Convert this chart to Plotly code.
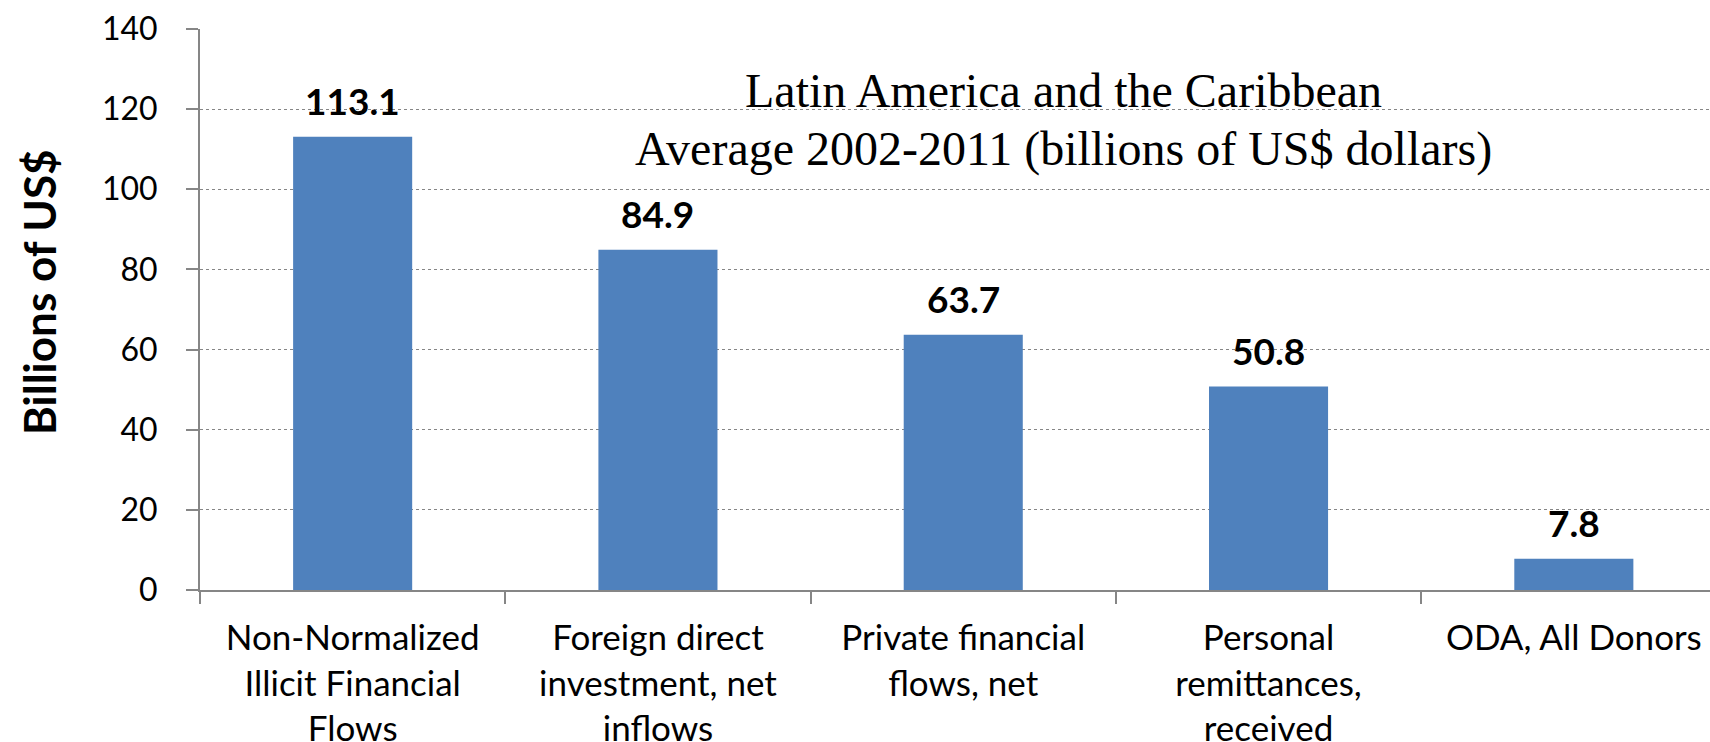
import plotly.graph_objects as go

categories = [
    "Non-Normalized<br>Illicit Financial<br>Flows",
    "Foreign direct<br>investment, net<br>inflows",
    "Private financial<br>flows, net",
    "Personal<br>remittances,<br>received",
    "ODA, All Donors",
]
values = [113.1, 84.9, 63.7, 50.8, 7.8]
y_ticks = [0, 20, 40, 60, 80, 100, 120, 140]
heading_lines = [
    "Latin America and the Caribbean",
    "Average 2002-2011 (billions of US$ dollars)",
]

W, H = 1710, 742
ML, MR, MT, MB = 200, 0, 29, 152
PW, PH = W - ML - MR, H - MT - MB
AXIS_GRAY = "#868686"
BAR_BLUE = "#4F81BD"
FONT = "Lato"


def px_x(x):
    return (x - ML) / PW


def px_y(y):
    return (H - MB - y) / PH


fig = go.Figure()
fig.add_trace(go.Bar(
    x=categories,
    y=values,
    marker=dict(color=BAR_BLUE, line=dict(width=0)),
    width=0.39,
    hoverinfo="x+y",
))

# value labels above each bar
for c, v in zip(categories, values):
    fig.add_annotation(
        x=c, y=v, text=f"<b>{v:.1f}</b>",
        showarrow=False, yanchor="middle", yshift=36,
        font=dict(family=FONT, size=37, color="black"),
    )

# two-line chart heading inside the plot
for line, yc in zip(heading_lines, [90, 149]):
    fig.add_annotation(
        xref="paper", yref="paper",
        x=px_x(1063), y=px_y(yc),
        text=line,
        showarrow=False, xanchor="center", yanchor="middle",
        font=dict(family="Liberation Serif", size=48, color="black"),
    )

# vertical axis title
fig.add_annotation(
    xref="paper", yref="paper",
    x=px_x(39), y=px_y(292),
    text="<b>Billions of US$</b>", textangle=-90,
    showarrow=False, xanchor="center", yanchor="middle",
    font=dict(family=FONT, size=44, color="black"),
)

fig.update_layout(
    width=W, height=H,
    margin=dict(l=ML, r=MR, t=MT, b=MB, pad=0, autoexpand=False),
    paper_bgcolor="white", plot_bgcolor="white",
    showlegend=False,
    bargap=0.61,
    xaxis=dict(
        range=[-0.5, 4.446],
        automargin=False,
        tickson="boundaries",
        ticks="outside", ticklen=12, tickcolor=AXIS_GRAY, tickwidth=2,
        showline=True, linecolor=AXIS_GRAY, linewidth=2,
        showgrid=False,
        tickfont=dict(family=FONT, size=35, color="black"),
        ticklabelstandoff=16,
        fixedrange=True,
    ),
    yaxis=dict(
        range=[0, 140],
        tickvals=y_ticks,
        automargin=False,
        ticks="outside", ticklen=12, tickcolor=AXIS_GRAY, tickwidth=2,
        showline=True, linecolor=AXIS_GRAY, linewidth=2,
        showgrid=True, gridcolor=AXIS_GRAY, griddash="dot", gridwidth=1,
        zeroline=False,
        tickfont=dict(family=FONT, size=32, color="black"),
        ticklabelstandoff=22,
        fixedrange=True,
    ),
)

fig.write_html("out.html")
